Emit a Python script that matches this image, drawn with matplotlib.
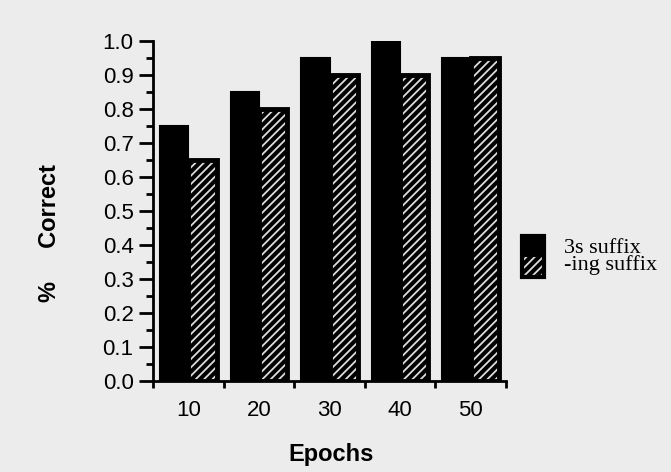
import matplotlib
matplotlib.use("Agg")
import matplotlib.pyplot as plt
import numpy as np
from matplotlib.patches import Rectangle
from matplotlib.ticker import MultipleLocator, FixedLocator, FixedFormatter

categories = ["10", "20", "30", "40", "50"]
suffix_3s = [0.75, 0.85, 0.95, 1.00, 0.95]
suffix_ing = [0.65, 0.80, 0.90, 0.90, 0.95]
series_names = ["3s suffix", "-ing suffix"]
y_ticks = [0.0, 0.1, 0.2, 0.3, 0.4, 0.5, 0.6, 0.7, 0.8, 0.9, 1.0]

W, H = 671, 472
plt.rcParams['hatch.linewidth'] = 1.3
fig = plt.figure(figsize=(W / 100, H / 100), dpi=100, facecolor="#ececec")
ax = fig.add_axes([153 / W, 1 - 381 / H, (506 - 153) / W, (381 - 41) / H])
ax.set_facecolor("none")

x = np.arange(len(categories))
bw = 0.40
ax.bar(x - bw / 2, suffix_3s, width=bw, color="black", edgecolor="black", linewidth=1.5)
ax.bar(x + bw / 2, suffix_ing, width=bw, color="black", edgecolor="#dddddd", hatch="////", linewidth=0)
ax.bar(x + bw / 2, suffix_ing, width=bw, fill=False, edgecolor="black", linewidth=3.5)

ax.set_xlim(-0.5, len(categories) - 0.5)
ax.set_ylim(0, 1.0)
for s in ["top", "right"]:
    ax.spines[s].set_visible(False)
for s in ["left", "bottom"]:
    ax.spines[s].set_linewidth(2)

sans = ["Liberation Sans", "DejaVu Sans"]
ax.set_yticks(y_ticks)
ax.set_yticklabels([f"{v:.1f}" for v in y_ticks], family=sans, size=16)
ax.yaxis.set_minor_locator(MultipleLocator(0.05))
ax.tick_params(axis="y", which="major", direction="out", length=10, width=2, pad=4)
ax.tick_params(axis="y", which="minor", direction="out", length=5, width=2)

ax.xaxis.set_major_locator(FixedLocator(np.arange(len(categories) + 1) - 0.5))
ax.xaxis.set_major_formatter(FixedFormatter([""] * (len(categories) + 1)))
ax.xaxis.set_minor_locator(FixedLocator(x))
ax.xaxis.set_minor_formatter(FixedFormatter(categories))
ax.tick_params(axis="x", which="major", direction="out", length=5, width=2)
ax.tick_params(axis="x", which="minor", length=0, pad=14, labelsize=16)
for lab in ax.get_xticklabels(minor=True):
    lab.set_family(sans)

fig.text(331 / W, 1 - 455 / H, "Epochs", ha="center", va="center",
         fontsize=17, fontweight="bold", family=sans)
fig.text(50 / W, 1 - 233 / H, "%     Correct", ha="center", va="center", rotation=90,
         fontsize=17, fontweight="bold", family=sans)

# legend
lx, lw_ = 522, 22
fig.add_artist(Rectangle((lx / W, 1 - 257 / H), lw_ / W, 21 / H, transform=fig.transFigure,
                         facecolor="black", edgecolor="black", linewidth=1))
fig.add_artist(Rectangle((lx / W, 1 - 277 / H), lw_ / W, 20 / H, transform=fig.transFigure,
                         facecolor="black", edgecolor="#dddddd", hatch="////", linewidth=0))
fig.add_artist(Rectangle((lx / W, 1 - 277 / H), lw_ / W, 41 / H, transform=fig.transFigure,
                         fill=False, edgecolor="black", linewidth=3))
serif = ["Liberation Serif", "DejaVu Serif"]
fig.text(564 / W, 1 - 257 / H, "\n".join(series_names), ha="left", va="center",
         fontsize=16, family=serif, linespacing=0.82)

fig.savefig("out.png", dpi=100, facecolor=fig.get_facecolor())
